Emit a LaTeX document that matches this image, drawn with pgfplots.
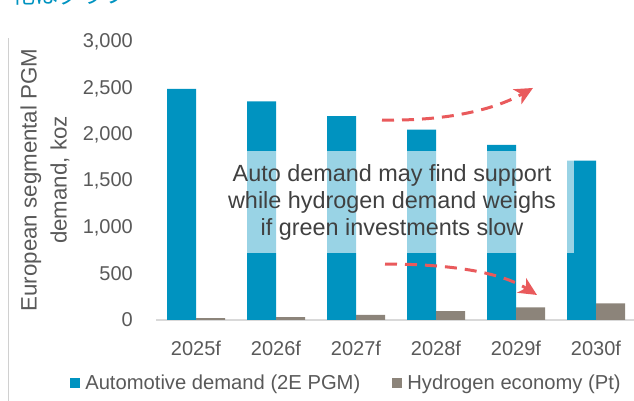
\documentclass[border=0pt]{standalone}
\usepackage{pgfplots}
\pgfplotsset{compat=1.18}
\usepackage{fontspec}
\setmainfont{Liberation Sans}
\newfontfamily\cjk{Noto Sans CJK JP}
\usetikzlibrary{arrows.meta}
\definecolor{autoblue}{RGB}{0,147,192}
\definecolor{hydgray}{RGB}{140,132,122}
\definecolor{arrowred}{RGB}{233,90,92}
\definecolor{txtgray}{RGB}{89,89,89}
\definecolor{anngray}{RGB}{64,64,64}
\definecolor{framegray}{RGB}{208,208,208}
\definecolor{axisgray}{RGB}{217,217,217}
\begin{document}
\begin{tikzpicture}[x=1pt,y=1pt]
\draw[framegray, line width=1pt] (8,0) -- (8,363);
\node[anchor=base west, inner sep=0pt, text=autoblue, font=\cjk\fontsize{23}{27}\selectfont] at (12,397) {化はグラフ};
\begin{axis}[
  at={(156pt,81pt)}, anchor=south west,
  scale only axis, width=480pt, height=278pt,
  xmin=-0.5, xmax=5.5, ymin=0, ymax=3000,
  xtick={0,1,2,3,4,5},
  xticklabels={2025f,2026f,2027f,2028f,2029f,2030f},
  ytick={0,500,1000,1500,2000,2500,3000},
  separate axis lines,
  axis x line*=bottom, axis y line*=left,
  x axis line style={axisgray, line width=1.5pt, -},
  y axis line style={draw=none},
  major tick length=0pt,
  /pgf/number format/assume math mode=true,
  /pgf/number format/1000 sep={,},
  yticklabel style={font=\fontsize{20}{24}\selectfont, text=txtgray, anchor=east, inner sep=0pt, xshift=-23pt},
  xticklabel style={font=\fontsize{20}{24}\selectfont, text=txtgray, anchor=north, inner sep=0pt, yshift=-21pt},
  legend style={at={(-0.179,-0.2266)}, anchor=west, draw=none, fill=none, legend columns=2,
     font=\fontsize{20.2}{24}\selectfont, text=txtgray, inner sep=0pt,
     nodes={inner sep=0pt},
     /tikz/every even column/.append style={column sep=32pt}},
  legend image code/.code={\fill[#1] (0pt,-5pt) rectangle (10pt,5pt); \path (15pt,0pt);},
  clip=false,
]
\addplot[ybar, bar width=29pt, bar shift=-14.5pt, fill=autoblue, draw=none]
  coordinates {(0,2495) (1,2360) (2,2200) (3,2055) (4,1890) (5,1720)};
\addlegendentry{Automotive demand (2E PGM)}
\addplot[ybar, bar width=29pt, bar shift=14.5pt, fill=hydgray, draw=none]
  coordinates {(0,20) (1,30) (2,55) (3,95) (4,135) (5,180)};
\addlegendentry{Hydrogen economy (Pt)}
\node[fill=white, fill opacity=0.6, text opacity=1, minimum width=363pt, minimum height=102pt,
  inner sep=0pt, align=center, text=anngray, font=\fontsize{23.4}{27}\selectfont]
  at (axis cs:2.45,1273) {Auto demand may find support\\while hydrogen demand weighs\\if green investments slow};
\draw[arrowred, line width=3pt, dash pattern=on 12pt off 8pt, -{Stealth[length=18pt,width=17pt,inset=5pt]}]
  (axis cs:2.325,2158) .. controls (axis cs:3.05,2147) and (axis cs:3.675,2245) .. (axis cs:4.2125,2504);
\draw[arrowred, line width=3pt, dash pattern=on 12pt off 8pt, -{Stealth[length=18pt,width=17pt,inset=5pt]}]
  (axis cs:2.3625,604) .. controls (axis cs:3.175,604) and (axis cs:3.8,518) .. (axis cs:4.2625,270);
\end{axis}
\node[rotate=90, align=center, text=txtgray, font=\fontsize{22.3}{30}\selectfont] at (45,221) {European segmental PGM\\demand, koz};
\pgfresetboundingbox
\useasboundingbox (0,0) rectangle (634,401);
\end{tikzpicture}
\end{document}
